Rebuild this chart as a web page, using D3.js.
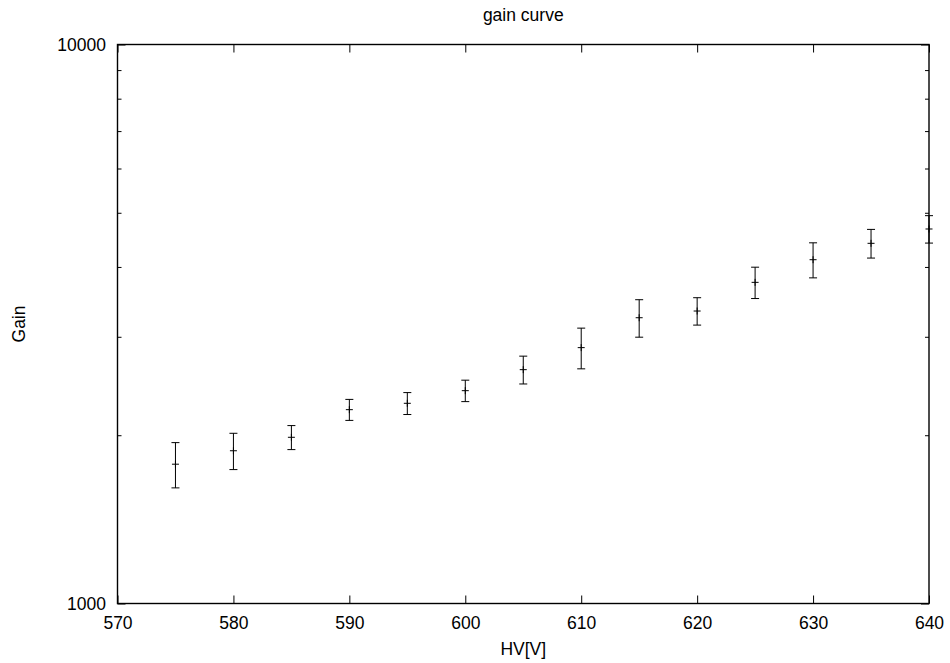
<!DOCTYPE html>
<html>
<head>
<meta charset="utf-8">
<script src="https://cdn.jsdelivr.net/npm/d3@7"></script>
<style>
  body { margin: 0; background: #fff; }
  text { font-family: "Liberation Sans", Arial, sans-serif; }
</style>
</head>
<body>
<div id="chart"></div>
<script>
// data
var hv = [575, 580, 585, 590, 595, 600, 605, 610, 615, 620, 625, 630, 635, 640];
var gain = [1775, 1876, 1983, 2222, 2281, 2403, 2620, 2869, 3245, 3336, 3754, 4121, 4409, 4677];
var gainErr = [165, 140, 98, 96, 103, 106, 150, 240, 250, 188, 242, 297, 260, 264];

var xTicks = [570, 580, 590, 600, 610, 620, 630, 640];
var yMajor = [1000, 10000];
var yMinor = [2000, 3000, 4000, 5000, 6000, 7000, 8000, 9000];

var width = 950, height = 663;
var margin = { top: 44.5, right: 21, bottom: 59.5, left: 117.5 };
var chart_width = width - margin.left - margin.right;
var chart_height = height - margin.top - margin.bottom;
var fontSize = '17.5px';

var svg = d3.select('#chart')
    .append('svg')
    .attr('width', width)
    .attr('height', height);

var g = svg.append('g')
    .attr('transform', 'translate(' + margin.left + ',' + margin.top + ')');

var x = d3.scaleLinear()
    .domain([570, 640])
    .range([0, chart_width]);

var y = d3.scaleLog()
    .domain([1000, 10000])
    .range([chart_height, 0]);

// bottom axis with labels
g.append('g')
    .attr('transform', 'translate(0,' + chart_height + ')')
    .call(d3.axisBottom(x).tickValues(xTicks).tickSize(-8).tickPadding(13.5).tickFormat(d3.format('d')));

// top mirror ticks
g.append('g')
    .call(d3.axisTop(x).tickValues(xTicks).tickSize(-8).tickFormat(''));

// left axis
g.append('g')
    .call(d3.axisLeft(y).tickValues(yMajor).tickSize(-8).tickPadding(11.5).tickFormat(d3.format('d')));
g.append('g')
    .call(d3.axisLeft(y).tickValues(yMinor).tickSize(-4).tickFormat(''));

// right mirror ticks
var right = g.append('g')
    .attr('transform', 'translate(' + chart_width + ',0)');
right.append('g').call(d3.axisRight(y).tickValues(yMajor).tickSize(-8).tickFormat(''));
right.append('g').call(d3.axisRight(y).tickValues(yMinor).tickSize(-4).tickFormat(''));

g.selectAll('.domain').remove();
g.selectAll('.tick line').attr('stroke', '#000').attr('stroke-width', 1);
g.selectAll('.tick text')
    .attr('fill', '#000')
    .style('font-size', fontSize)
    .style('font-family', '"Liberation Sans", Arial, sans-serif');

// frame
g.append('rect')
    .attr('x', 0).attr('y', 0)
    .attr('width', chart_width).attr('height', chart_height)
    .attr('fill', 'none')
    .attr('stroke', '#000')
    .attr('stroke-width', 1.4);

// error bars
var pts = hv.map(function (d, i) {
    return { hv: d, gain: gain[i], err: gainErr[i] };
});

var bars = g.selectAll('.bar')
    .data(pts)
    .enter()
    .append('g')
    .attr('class', 'bar')
    .attr('stroke', '#000')
    .attr('stroke-width', 1);

bars.append('line')
    .attr('x1', function (d) { return x(d.hv); })
    .attr('x2', function (d) { return x(d.hv); })
    .attr('y1', function (d) { return y(d.gain - d.err); })
    .attr('y2', function (d) { return y(d.gain + d.err); });

bars.append('line')
    .attr('x1', function (d) { return x(d.hv) - 4; })
    .attr('x2', function (d) { return x(d.hv) + 4; })
    .attr('y1', function (d) { return y(d.gain + d.err); })
    .attr('y2', function (d) { return y(d.gain + d.err); });

bars.append('line')
    .attr('x1', function (d) { return x(d.hv) - 4; })
    .attr('x2', function (d) { return x(d.hv) + 4; })
    .attr('y1', function (d) { return y(d.gain - d.err); })
    .attr('y2', function (d) { return y(d.gain - d.err); });

// point marker (+)
bars.append('line')
    .attr('x1', function (d) { return x(d.hv) - 3.5; })
    .attr('x2', function (d) { return x(d.hv) + 3.5; })
    .attr('y1', function (d) { return y(d.gain); })
    .attr('y2', function (d) { return y(d.gain); });
bars.append('line')
    .attr('x1', function (d) { return x(d.hv); })
    .attr('x2', function (d) { return x(d.hv); })
    .attr('y1', function (d) { return y(d.gain) - 3.5; })
    .attr('y2', function (d) { return y(d.gain) + 3.5; });

// titles
svg.append('text')
    .attr('x', margin.left + chart_width / 2)
    .attr('y', 21)
    .attr('text-anchor', 'middle')
    .style('font-size', fontSize)
    .text('gain curve');

svg.append('text')
    .attr('x', margin.left + chart_width / 2)
    .attr('y', 655)
    .attr('text-anchor', 'middle')
    .style('font-size', fontSize)
    .text('HV[V]');

svg.append('text')
    .attr('transform', 'translate(25,' + (margin.top + chart_height / 2) + ') rotate(-90)')
    .attr('text-anchor', 'middle')
    .style('font-size', fontSize)
    .text('Gain');
</script>
</body>
</html>
